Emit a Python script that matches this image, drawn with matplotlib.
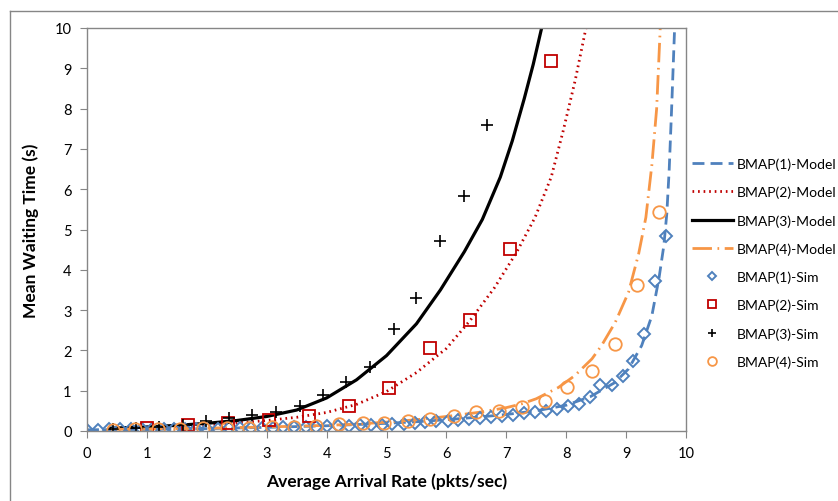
import matplotlib
matplotlib.use('Agg')
import matplotlib.pyplot as plt
from matplotlib.lines import Line2D

plt.rcParams['font.family'] = ['Lato', 'DejaVu Sans']

# ---- model curves ----
m1_x = [0, 1, 2, 3, 4, 5, 5.5, 6, 6.5, 7, 7.5, 8.0, 8.4, 8.81, 9.04, 9.26, 9.43, 9.55, 9.63, 9.68, 9.72, 9.76, 9.81]
m1_y = [0.03, 0.04, 0.06, 0.09, 0.13, 0.19, 0.23, 0.28, 0.34, 0.41, 0.5, 0.64, 0.85, 1.2, 1.54, 2.12, 2.86, 3.8, 4.6, 5.4, 6.5, 8.0, 10.0]

m2_x = [1.0, 1.5, 2.0, 2.5, 3.0, 3.5, 4.0, 4.5, 5.0, 5.5, 6.0, 6.4, 6.8, 7.17, 7.48, 7.75, 7.95, 8.15, 8.33]
m2_y = [0.08, 0.11, 0.15, 0.2, 0.26, 0.34, 0.46, 0.66, 0.98, 1.45, 2.05, 2.75, 3.55, 4.43, 5.3, 6.3, 7.45, 8.7, 10.0]

m3_x = [0.4, 1.0, 1.5, 2.0, 2.5, 3.0, 3.5, 4.0, 4.5, 5.0, 5.5, 5.9, 6.3, 6.6, 6.9, 7.1, 7.3, 7.45, 7.59]
m3_y = [0.07, 0.1, 0.14, 0.19, 0.26, 0.36, 0.52, 0.82, 1.27, 1.87, 2.66, 3.5, 4.45, 5.25, 6.3, 7.2, 8.25, 9.1, 10.0]

m4_x = [0.4, 1, 2, 3, 4, 4.5, 5, 5.5, 6, 6.58, 7.0, 7.25, 7.5, 7.87, 8.14, 8.43, 8.59, 8.82, 9.04, 9.21, 9.33, 9.43, 9.51, 9.57]
m4_y = [0.04, 0.05, 0.07, 0.1, 0.14, 0.17, 0.22, 0.28, 0.36, 0.47, 0.58, 0.67, 0.8, 1.08, 1.37, 1.79, 2.12, 2.7, 3.44, 4.4, 5.3, 6.6, 8.0, 10.0]

# ---- simulation points ----
s1_x = [0, 0.18, 0.36, 0.55, 0.73, 0.91, 1.09, 1.28, 1.46, 1.64, 1.82,
        2.0, 2.19, 2.37, 2.55, 2.73, 2.92, 3.1, 3.28, 3.46, 3.65,
        3.83, 4.01, 4.19, 4.38, 4.56, 4.74, 4.92, 5.1, 5.29, 5.47,
        5.65, 5.83, 6.02, 6.2, 6.38, 6.56, 6.75, 6.93, 7.11, 7.29,
        7.48, 7.66, 7.84, 8.03, 8.21, 8.39, 8.57, 8.76, 8.94, 9.12, 9.3, 9.49, 9.67]
s1_y = [0.03, 0.03, 0.04, 0.04, 0.04, 0.04, 0.05, 0.05, 0.05, 0.05, 0.06,
        0.06, 0.06, 0.07, 0.07, 0.07, 0.08, 0.08, 0.09, 0.09, 0.10,
        0.11, 0.12, 0.12, 0.13, 0.14, 0.15, 0.16, 0.17, 0.18, 0.20,
        0.22, 0.24, 0.26, 0.28, 0.30, 0.32, 0.35, 0.37, 0.40, 0.44,
        0.47, 0.50, 0.55, 0.63, 0.67, 0.84, 1.14, 1.14, 1.36, 1.74, 2.41, 3.73, 4.85]

s2_x = [1.0, 1.69, 2.36, 3.04, 3.71, 4.38, 5.05, 5.73, 6.4, 7.07, 7.74]
s2_y = [0.08, 0.14, 0.2, 0.27, 0.37, 0.63, 1.06, 2.05, 2.75, 4.52, 9.17]

s3_x = [0.43, 0.82, 1.2, 1.6, 1.99, 2.37, 2.76, 3.15, 3.55, 3.94, 4.33, 4.72, 5.12, 5.5, 5.9, 6.29, 6.68]
s3_y = [0.05, 0.07, 0.09, 0.15, 0.24, 0.32, 0.4, 0.48, 0.63, 0.9, 1.22, 1.6, 2.52, 3.3, 4.72, 5.82, 7.6]

s4_x = [0.43, 0.8, 1.19, 1.56, 1.94, 2.33, 2.7, 3.09, 3.45, 3.82, 4.2, 4.6, 4.96,
        5.36, 5.73, 6.12, 6.5, 6.88, 7.26, 7.64, 8.02, 8.43, 8.81, 9.18, 9.55]
s4_y = [0.03, 0.04, 0.05, 0.06, 0.07, 0.07, 0.08, 0.09, 0.09, 0.13, 0.17, 0.21, 0.21,
        0.25, 0.3, 0.36, 0.46, 0.5, 0.59, 0.75, 1.08, 1.5, 2.16, 3.62, 5.43]

blue = '#4F81BD'
red = '#C00000'
orange = '#F79646'
grey = '#868686'

fig = plt.figure(figsize=(8.38, 5.02), dpi=100)
ax = fig.add_axes([87 / 838, 70 / 502, 599 / 838, 403 / 502])

# model lines
ax.plot(m1_x, m1_y, color=blue, lw=2.0, dashes=(4.3, 2.2), label='BMAP(1)-Model')
ax.plot(m2_x, m2_y, color=red, lw=2.0, dashes=(0.6, 1.4), label='BMAP(2)-Model')
ax.plot(m3_x, m3_y, color='black', lw=2.3, label='BMAP(3)-Model')
ax.plot(m4_x, m4_y, color=orange, lw=2.0, dashes=(7, 2, 0.6, 2), label='BMAP(4)-Model')

# simulation markers
ax.plot(s1_x, s1_y, ls='none', marker='D', ms=6.3, mfc='none', mec=blue, mew=1.4, label='BMAP(1)-Sim')
ax.plot(s2_x, s2_y, ls='none', marker='s', ms=8.5, mfc='none', mec=red, mew=1.3, label='BMAP(2)-Sim')
ax.plot(s3_x, s3_y, ls='none', marker='+', ms=9, mec='black', mew=1.2, label='BMAP(3)-Sim')
ax.plot(s4_x, s4_y, ls='none', marker='o', ms=9, mfc='none', mec=orange, mew=1.3, label='BMAP(4)-Sim')

ax.set_xlim(0, 10)
ax.set_ylim(0, 10)
ax.set_xticks(range(0, 11))
ax.set_yticks(range(0, 11))
ax.tick_params(axis='both', direction='out', length=5, color=grey, labelsize=10.5, pad=6)
for s in ax.spines.values():
    s.set_color(grey)
    s.set_linewidth(1.0)

ax.set_xlabel('Average Arrival Rate (pkts/sec)', fontsize=12.5, fontweight='bold', labelpad=9)
ax.set_ylabel('Mean Waiting Time (s)', fontsize=12.5, fontweight='bold', labelpad=11)

fig.legend(loc='upper left', bbox_to_anchor=(686 / 838, (502 - 153) / 502),
           frameon=False, fontsize=10, handlelength=3.0, handletextpad=0.25,
           labelspacing=1.13, borderaxespad=0, markerscale=0.7)

# chart area border (left and top edges visible)
fig.add_artist(Line2D([10 / 838, 10 / 838], [0, (502 - 12) / 502], color=grey, lw=1.0, transform=fig.transFigure))
fig.add_artist(Line2D([10 / 838, 1], [(502 - 12) / 502, (502 - 12) / 502], color=grey, lw=1.0, transform=fig.transFigure))

plt.savefig('out.png', dpi=100)
